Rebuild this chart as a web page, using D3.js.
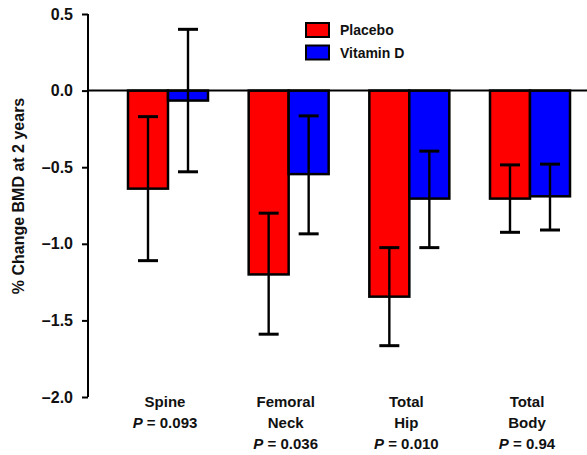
<!DOCTYPE html>
<html>
<head>
<meta charset="utf-8">
<script src="https://cdn.jsdelivr.net/npm/d3@7"></script>
<style>
  body { margin: 0; background: #fff; }
  text { font-family: "Liberation Sans", Arial, sans-serif; font-weight: bold; fill: #111; }
</style>
</head>
<body>
<div id="chart"></div>
<script>
// data
var sites = ["Spine", "Femoral Neck", "Total Hip", "Total Body"];
var siteLines = [["Spine"], ["Femoral", "Neck"], ["Total", "Hip"], ["Total", "Body"]];
var pValues = ["0.093", "0.036", "0.010", "0.94"];
var groups = ["Placebo", "Vitamin D"];
var placeboMean = [-0.64, -1.20, -1.345, -0.705];
var placeboLow  = [-1.11, -1.59, -1.665, -0.925];
var placeboHigh = [-0.17, -0.80, -1.025, -0.485];
var vitdMean = [-0.065, -0.545, -0.705, -0.69];
var vitdLow  = [-0.53, -0.935, -1.025, -0.91];
var vitdHigh = [0.40, -0.165, -0.395, -0.48];
var yTicks = [0.5, 0.0, -0.5, -1.0, -1.5, -2.0];

var colors = {"Placebo": "#ff0000", "Vitamin D": "#0000ff"};

const W = 587, H = 455;
var svg = d3.select("#chart").append("svg")
    .attr("width", W).attr("height", H);

var yScale = d3.scaleLinear().domain([-2, 0.5]).range([397, 14]);
var xScale = d3.scalePoint().domain(sites).range([168, 530]);
var barW = 40;

var data = [];
sites.forEach(function(s, i) {
    data.push({site: s, group: "Placebo", v: placeboMean[i], lo: placeboLow[i], hi: placeboHigh[i], off: -barW});
    data.push({site: s, group: "Vitamin D", v: vitdMean[i], lo: vitdLow[i], hi: vitdHigh[i], off: 0});
});

// bars
svg.selectAll("rect.bar")
    .data(data)
    .enter().append("rect")
    .attr("class", "bar")
    .attr("x", function(d) { return xScale(d.site) + d.off; })
    .attr("y", function(d) { return yScale(Math.max(0, d.v)); })
    .attr("width", barW)
    .attr("height", function(d) { return Math.abs(yScale(d.v) - yScale(0)); })
    .style("fill", function(d) { return colors[d.group]; })
    .style("stroke", "#000")
    .style("stroke-width", 2.5);

// error bars
var eb = svg.selectAll("g.err").data(data).enter().append("g")
    .attr("transform", function(d) { return "translate(" + (xScale(d.site) + d.off + barW / 2) + ",0)"; });
eb.append("line")
    .attr("x1", 0).attr("x2", 0)
    .attr("y1", function(d) { return yScale(d.hi); })
    .attr("y2", function(d) { return yScale(d.lo); })
    .style("stroke", "#000").style("stroke-width", 2.4);
eb.selectAll("line.cap")
    .data(function(d) { return [d.hi, d.lo]; })
    .enter().append("line")
    .attr("x1", -10).attr("x2", 10)
    .attr("y1", function(v) { return yScale(v); })
    .attr("y2", function(v) { return yScale(v); })
    .style("stroke", "#000").style("stroke-width", 3);

// zero line
svg.append("line")
    .attr("x1", 88).attr("x2", W)
    .attr("y1", yScale(0)).attr("y2", yScale(0))
    .style("stroke", "#000").style("stroke-width", 2);

// y axis
var yAxis = d3.axisLeft(yScale)
    .tickValues(yTicks)
    .tickSize(6)
    .tickPadding(9)
    .tickFormat(function(d) { return d < 0 ? "\u2013" + d3.format(".1f")(-d) : d3.format(".1f")(d); });
svg.append("g")
    .attr("transform", "translate(88,0)")
    .call(yAxis)
    .call(function(g) { g.select(".domain").attr("d", "M0," + yScale(0.5) + "V" + yScale(-2)).style("stroke-width", 2); })
    .call(function(g) { g.selectAll(".tick line").style("stroke-width", 2); })
    .call(function(g) {
        g.selectAll("text")
            .style("font-family", "'Liberation Sans', Arial, sans-serif")
            .style("font-weight", "bold")
            .style("font-size", "16px")
            .style("fill", "#111");
    });

// y label
svg.append("text")
    .attr("transform", "translate(24," + 196 + ") rotate(-90)")
    .style("text-anchor", "middle")
    .style("font-size", "16px")
    .text("% Change BMD at 2 years");

// x labels
var xl = svg.selectAll("g.xlab").data(sites).enter().append("g")
    .attr("transform", function(d) { return "translate(" + (xScale(d) - 3) + ",0)"; });
xl.each(function(d, i) {
    var g = d3.select(this);
    var lines = siteLines[i];
    lines.forEach(function(t, j) {
        g.append("text")
            .attr("y", 407 + j * 21)
            .style("text-anchor", "middle")
            .style("font-size", "15px")
            .text(t);
    });
    var p = g.append("text")
        .attr("y", 407 + lines.length * 21)
        .style("text-anchor", "middle")
        .style("font-size", "15px");
    p.append("tspan").style("font-style", "italic").text("P");
    p.append("tspan").text(" = " + pValues[i]);
});

// legend
var leg = svg.selectAll("g.leg").data(groups).enter().append("g")
    .attr("transform", function(d, i) { return "translate(306," + (23 + i * 22.5) + ")"; });
leg.append("rect")
    .attr("width", 23).attr("height", 14)
    .style("fill", function(d) { return colors[d]; })
    .style("stroke", "#000").style("stroke-width", 2);
leg.append("text")
    .attr("x", 34).attr("y", 12)
    .style("font-size", "14px")
    .text(function(d) { return d; });
</script>
</body>
</html>
